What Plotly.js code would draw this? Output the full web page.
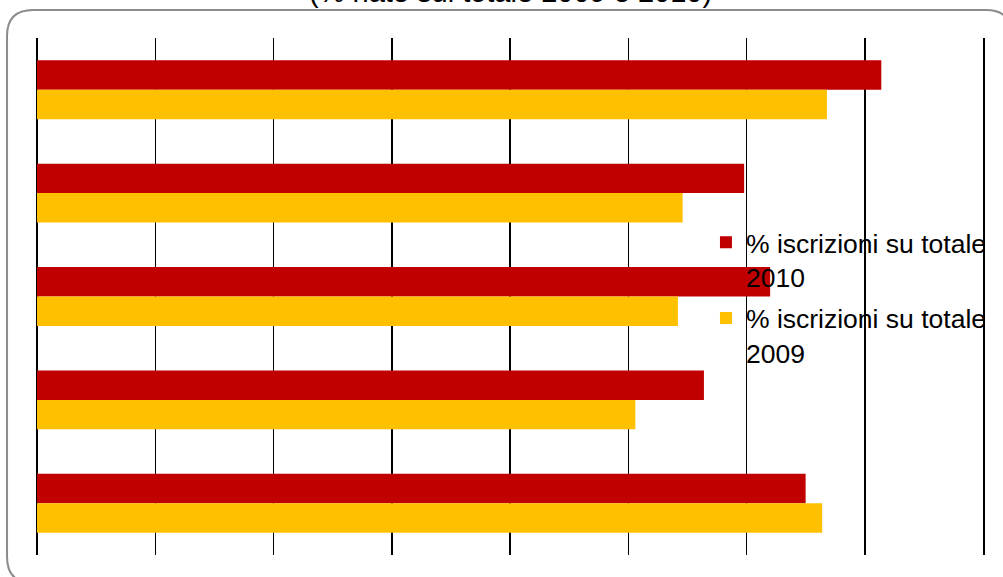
<!DOCTYPE html>
<html>
<head>
<meta charset="utf-8">
<script src="https://cdn.plot.ly/plotly-3.0.1.min.js"></script>
<style>
  html, body { margin: 0; padding: 0; background: #ffffff; overflow: hidden; }
  #chart { width: 1003px; height: 577px; }
</style>
</head>
<body>
<div id="chart"></div>
<script>
const titleText = "(% nate sul totale 2009 e 2010)";
const categories = ["Categoria 1", "Categoria 2", "Categoria 3", "Categoria 4", "Categoria 5"];
const seriesNames = ["% iscrizioni su totale<br>2010", "% iscrizioni su totale<br>2009"];
const values2010 = [35.7, 29.9, 31.0, 28.2, 32.5];
const values2009 = [33.4, 27.3, 27.1, 25.3, 33.2];
const colors = ["#C00000", "#FFC000"];

const traces = [
  { type: "bar", orientation: "h", name: seriesNames[0], y: categories, x: values2010,
    legendgroup: "g2010", marker: { color: colors[0] }, hoverinfo: "x+name" },
  { type: "bar", orientation: "h", name: seriesNames[1], y: categories, x: values2009,
    legendgroup: "g2009", marker: { color: colors[1] }, hoverinfo: "x+name" }
];

// rounded outer frame, in paper units (plot area: x 37..984 px, y 38..555 px)
const W = 1003, H = 577, ML = 37, MR = 19, MT = 38, MB = 22;
const pw = W - ML - MR, ph = H - MT - MB;
function px(x) { return ((x - ML) / pw).toFixed(5); }
function py(y) { return ((H - MB - y) / ph).toFixed(5); }
const fL = 7, fT = 10, fR = 1013, fB = 583, rad = 26;
const framePath =
  "M" + px(fL + rad) + "," + py(fT) +
  " L" + px(fR - rad) + "," + py(fT) +
  " Q" + px(fR) + "," + py(fT) + " " + px(fR) + "," + py(fT + rad) +
  " L" + px(fR) + "," + py(fB - rad) +
  " Q" + px(fR) + "," + py(fB) + " " + px(fR - rad) + "," + py(fB) +
  " L" + px(fL + rad) + "," + py(fB) +
  " Q" + px(fL) + "," + py(fB) + " " + px(fL) + "," + py(fB - rad) +
  " L" + px(fL) + "," + py(fT + rad) +
  " Q" + px(fL) + "," + py(fT) + " " + px(fL + rad) + "," + py(fT) + " Z";

const layout = {
  width: W, height: H,
  paper_bgcolor: "#ffffff", plot_bgcolor: "rgba(0,0,0,0)",
  margin: { l: ML, r: MR, t: MT, b: MB, pad: 0 },
  font: { family: "Liberation Sans, Arial, sans-serif", color: "#000000" },
  annotations: [
    { text: titleText, xref: "paper", x: 0.5, xanchor: "center",
      yref: "paper", y: 1.0884, yanchor: "middle", showarrow: false,
      font: { size: 29, color: "#000000" } }
  ],
  shapes: [
    { type: "path", xref: "paper", yref: "paper", path: framePath, layer: "below",
      line: { color: "#8c8c8c", width: 2 }, fillcolor: "rgba(0,0,0,0)" }
  ],
  barmode: "group", bargap: 0.43, bargroupgap: 0,
  xaxis: { range: [0, 40], tick0: 0, dtick: 5, showticklabels: false, ticks: "",
           showgrid: true, gridcolor: "#000000", gridwidth: 1.5,
           zeroline: true, zerolinecolor: "#000000", zerolinewidth: 1.5,
           showline: false, fixedrange: true },
  yaxis: { type: "category", autorange: "reversed", showticklabels: false, ticks: "",
           showgrid: false, zeroline: false,
           showline: true, mirror: true, linecolor: "#000000", linewidth: 1.5,
           fixedrange: true },
  showlegend: true,
  legend: { x: 0.7064, xanchor: "left", xref: "paper", y: 0.651, yanchor: "top", yref: "paper",
            bgcolor: "rgba(0,0,0,0)", borderwidth: 0, valign: "top",
            traceorder: "grouped", tracegroupgap: 4,
            font: { size: 26.5, color: "#000000" }, itemclick: false, itemdoubleclick: false }
};

Plotly.newPlot("chart", traces, layout, { displayModeBar: false, staticPlot: true });
</script>
</body>
</html>
